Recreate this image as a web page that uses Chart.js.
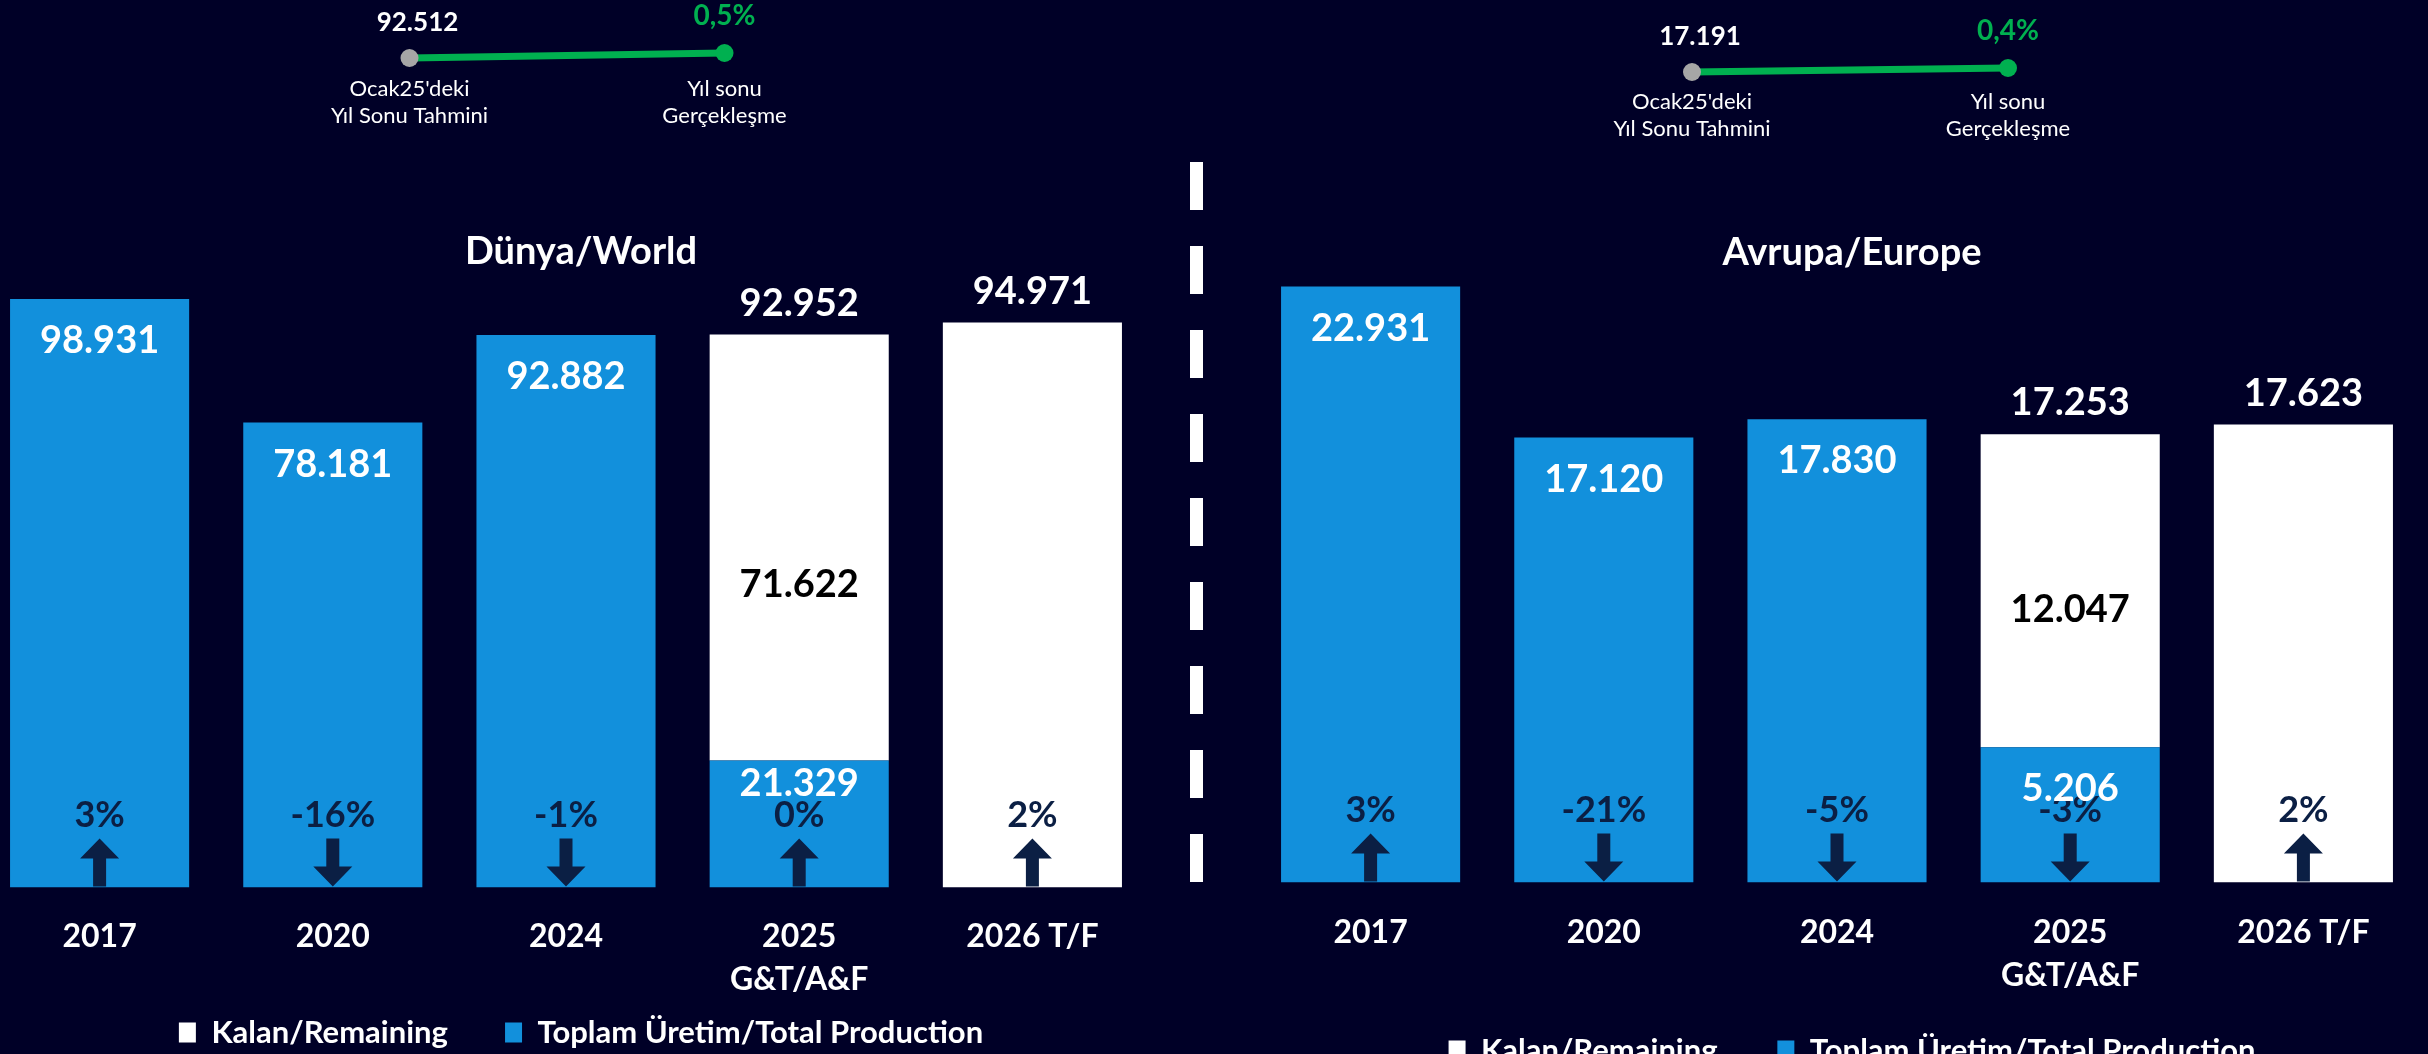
<!DOCTYPE html>
<html lang="tr">
<head>
<meta charset="utf-8">
<script src="https://cdn.jsdelivr.net/npm/chart.js@4.4.1/dist/chart.umd.min.js"></script>
<style>
  html, body { margin: 0; padding: 0; background: #000027; width: 2428px; height: 1054px; overflow: hidden; }
  canvas { position: absolute; }
  /* kesikli ayırıcı çizgi */
  #ayirici { position: absolute; left: 1190px; top: 162px; width: 13px; height: 720px;
    background: repeating-linear-gradient(to bottom, #ffffff 0 48px, transparent 48px 84px); }
</style>
</head>
<body>
<canvas id="dunyaChart" width="1196" height="1060" style="left:-17px;top:0"></canvas>
<canvas id="avrupaChart" width="1196" height="1080" style="left:1254px;top:0"></canvas>
<div id="ayirici"></div>
<canvas id="dunyaTahminChart" width="648" height="140" style="left:243px;top:0"></canvas>
<canvas id="avrupaTahminChart" width="650" height="160" style="left:1525px;top:0"></canvas>
<script>
// Kategoriler
const kategoriler = ['2017', '2020', '2024', ['2025', 'G&T/A&F'], '2026 T/F'];

// Dünya / World
const dunyaUretim = [98931, 78181, 92882, 21329, null];
const dunyaKalan = [null, null, null, 71622, 94971];
const dunyaToplam = [null, null, null, 92952, 94971];
const dunyaDegisim = [3, -16, -1, 0, 2];

// Avrupa / Europe
const avrupaUretim = [22931, 17120, 17830, 5206, null];
const avrupaKalan = [null, null, null, 12047, 17623];
const avrupaToplam = [null, null, null, 17253, 17623];
const avrupaDegisim = [3, -21, -5, -3, 2];

// Yıl sonu tahmini -> gerçekleşme
const tahminEtiketleri = [["Ocak25'deki", 'Yıl Sonu Tahmini'], ['Yıl sonu', 'Gerçekleşme']];
const dunyaTahmin = [92512, 92952];
const avrupaTahmin = [17191, 17253];

const FONT = 'Lato, "Open Sans", sans-serif';
const MAVI = '#1290DC';
const LACIVERT = '#0B1F44';
const YESIL = '#00B050';
const GRI = '#A6A6A6';

// 98931 -> "98.931"
function binlik(v) {
  return String(v).replace(/\B(?=(\d{3})+(?!\d))/g, '.');
}

function ok(ctx, x, taban, yukari) {
  const boy = 49, basBoy = 20, basGen = 39, govde = 13;
  const tepe = taban - boy;
  ctx.beginPath();
  if (yukari) {
    ctx.moveTo(x, tepe);
    ctx.lineTo(x + basGen / 2, tepe + basBoy);
    ctx.lineTo(x + govde / 2, tepe + basBoy);
    ctx.lineTo(x + govde / 2, taban - 1);
    ctx.lineTo(x - govde / 2, taban - 1);
    ctx.lineTo(x - govde / 2, tepe + basBoy);
    ctx.lineTo(x - basGen / 2, tepe + basBoy);
  } else {
    ctx.moveTo(x - govde / 2, tepe);
    ctx.lineTo(x + govde / 2, tepe);
    ctx.lineTo(x + govde / 2, taban - basBoy - 1);
    ctx.lineTo(x + basGen / 2, taban - basBoy - 1);
    ctx.lineTo(x, taban - 1);
    ctx.lineTo(x - basGen / 2, taban - basBoy - 1);
    ctx.lineTo(x - govde / 2, taban - basBoy - 1);
  }
  ctx.closePath();
  ctx.fill();
}

// Çubuk etiketleri, yüzdeler ve oklar
const etiketEklentisi = {
  id: 'etiketler',
  afterDatasetsDraw(chart, args, opts) {
    const ctx = chart.ctx;
    const uretim = chart.data.datasets[0].data;
    const kalan = chart.data.datasets[1].data;
    const uMeta = chart.getDatasetMeta(0);
    const kMeta = chart.getDatasetMeta(1);
    const taban = chart.scales.y.getPixelForValue(0);
    ctx.save();
    ctx.textAlign = 'center';
    ctx.textBaseline = 'middle';
    chart.data.labels.forEach((_, i) => {
      const x = chart.scales.x.getPixelForValue(i);
      // yüzde ve ok
      const d = opts.degisim[i];
      ctx.fillStyle = LACIVERT;
      ctx.font = 'bold 36px ' + FONT;
      ctx.fillText(d + '%', x, taban - 72);
      ok(ctx, x, taban, d >= 0);

      ctx.font = 'bold 38px ' + FONT;
      if (uretim[i] != null) {
        const u = uMeta.data[i];
        ctx.fillStyle = '#ffffff';
        const ofs = kalan[i] != null ? opts.uretimOfset : 42;
        ctx.fillText(binlik(uretim[i]), x, u.y + ofs);
      }
      if (kalan[i] != null && uretim[i] != null) {
        const k = kMeta.data[i];
        ctx.fillStyle = '#000000';
        ctx.fillText(binlik(kalan[i]), x, (k.y + k.base) / 2 + opts.kalanOfset);
      }
      if (opts.toplam[i] != null) {
        const ust = kalan[i] != null ? kMeta.data[i].y : uMeta.data[i].y;
        ctx.fillStyle = '#ffffff';
        ctx.fillText(binlik(opts.toplam[i]), x, ust - 31);
      }
    });
    ctx.restore();
  }
};

function barGrafik(id, uretim, kalan, ymax, ayar) {
  new Chart(document.getElementById(id), {
    type: 'bar',
    data: {
      labels: kategoriler,
      datasets: [
        { label: 'Toplam Üretim/Total Production', data: uretim, backgroundColor: MAVI,
          barPercentage: 0.768, categoryPercentage: 1 },
        { label: 'Kalan/Remaining', data: kalan, backgroundColor: '#ffffff',
          barPercentage: 0.768, categoryPercentage: 1 }
      ]
    },
    options: {
      responsive: false,
      animation: false,
      layout: { padding: { top: 0, left: 0, right: 0, bottom: ayar.altBosluk } },
      scales: {
        x: {
          stacked: true,
          grid: { display: false, drawTicks: false },
          border: { display: false },
          ticks: { color: '#ffffff', font: { family: FONT, size: 32, weight: 'bold', lineHeight: 1.36 },
                   padding: ayar.tikBosluk, maxRotation: 0, autoSkip: false },
          afterFit: s => { s.height = ayar.tikBosluk + 88; }
        },
        y: {
          stacked: true, min: 0, max: ymax, position: 'right',
          ticks: { display: false }, grid: { display: false }, border: { display: false },
          afterFit: s => { s.width = 30; }
        }
      },
      plugins: {
        title: {
          display: true, text: ayar.baslik, color: '#ffffff',
          font: { family: FONT, size: 38, weight: 'bold', lineHeight: 1.2 },
          padding: { top: ayar.baslikUst, bottom: ayar.baslikAlt }
        },
        legend: {
          position: 'bottom', reverse: true,
          labels: {
            color: '#ffffff', boxWidth: 17, boxHeight: 20, padding: ayar.lejantBosluk,
            font: { family: FONT, size: 31, weight: 'bold' },
            // iki lejant öğesi arasında daha geniş boşluk
            generateLabels: c => {
              const items = Chart.defaults.plugins.legend.labels.generateLabels(c);
              items.forEach(it => { if (it.datasetIndex === 1) it.text += ayar.lejantAra; });
              return items;
            }
          }
        },
        tooltip: { enabled: false },
        etiketler: ayar.etiket
      }
    },
    plugins: [etiketEklentisi]
  });
}

barGrafik('dunyaChart', dunyaUretim, dunyaKalan, 100000, {
  baslik: 'Dünya/World', baslikUst: 229, baslikAlt: 18,
  altBosluk: 2, tikBosluk: 27, lejantBosluk: 14.5, lejantAra: '\u2003\u2002\u2009',
  etiket: { toplam: dunyaToplam, degisim: dunyaDegisim, uretimOfset: 23, kalanOfset: 37 }
});

barGrafik('avrupaChart', avrupaUretim, avrupaKalan, 23200, {
  baslik: 'Avrupa/Europe', baslikUst: 230, baslikAlt: 4,
  altBosluk: 4, tikBosluk: 28, lejantBosluk: 36.5, lejantAra: '\u2003',
  etiket: { toplam: avrupaToplam, degisim: avrupaDegisim, uretimOfset: 42, kalanOfset: 19 }
});

// Tahmin -> gerçekleşme etiketleri
const tahminEklentisi = {
  id: 'tahminEtiket',
  afterDatasetsDraw(chart) {
    const ctx = chart.ctx;
    const d = chart.data.datasets[0].data;
    const pts = chart.getDatasetMeta(0).data;
    const fark = ((d[1] / d[0] - 1) * 100).toFixed(1).replace('.', ',') + '%';
    ctx.save();
    ctx.textAlign = 'center';
    ctx.textBaseline = 'middle';
    ctx.fillStyle = '#ffffff';
    ctx.font = 'bold 26px ' + FONT;
    ctx.fillText(binlik(d[0]), pts[0].x + 8, pts[0].y - 35);
    ctx.fillStyle = YESIL;
    ctx.font = 'bold 28px ' + FONT;
    ctx.fillText(fark, pts[1].x, pts[1].y - 37);
    // nokta altındaki açıklamalar
    ctx.fillStyle = '#ffffff';
    ctx.font = '22px ' + FONT;
    chart.data.labels.forEach((satirlar, i) => {
      satirlar.forEach((s, j) => ctx.fillText(s, pts[i].x, chart.chartArea.bottom + 24 + j * 27));
    });
    ctx.restore();
  }
};

function tahminGrafik(id, degerler, ymin, ymax, ayar) {
  new Chart(document.getElementById(id), {
    type: 'line',
    data: {
      labels: tahminEtiketleri,
      datasets: [{
        data: degerler, borderColor: YESIL, borderWidth: 7,
        pointRadius: 9, pointBorderWidth: 0, pointBackgroundColor: [GRI, YESIL], clip: false
      }]
    },
    options: {
      responsive: false,
      animation: false,
      layout: { padding: { top: ayar.ust, bottom: ayar.alt, left: 0, right: 0 } },
      scales: {
        x: { display: false, offset: true },
        y: { display: false, min: ymin, max: ymax }
      },
      plugins: { legend: { display: false }, tooltip: { enabled: false } }
    },
    plugins: [tahminEklentisi]
  });
}

tahminGrafik('dunyaTahminChart', dunyaTahmin, 91896, 93656, { ust: 45, alt: 75 });
tahminGrafik('avrupaTahminChart', avrupaTahmin, 17098, 17408, { ust: 58, alt: 82 });
</script>
</body>
</html>
